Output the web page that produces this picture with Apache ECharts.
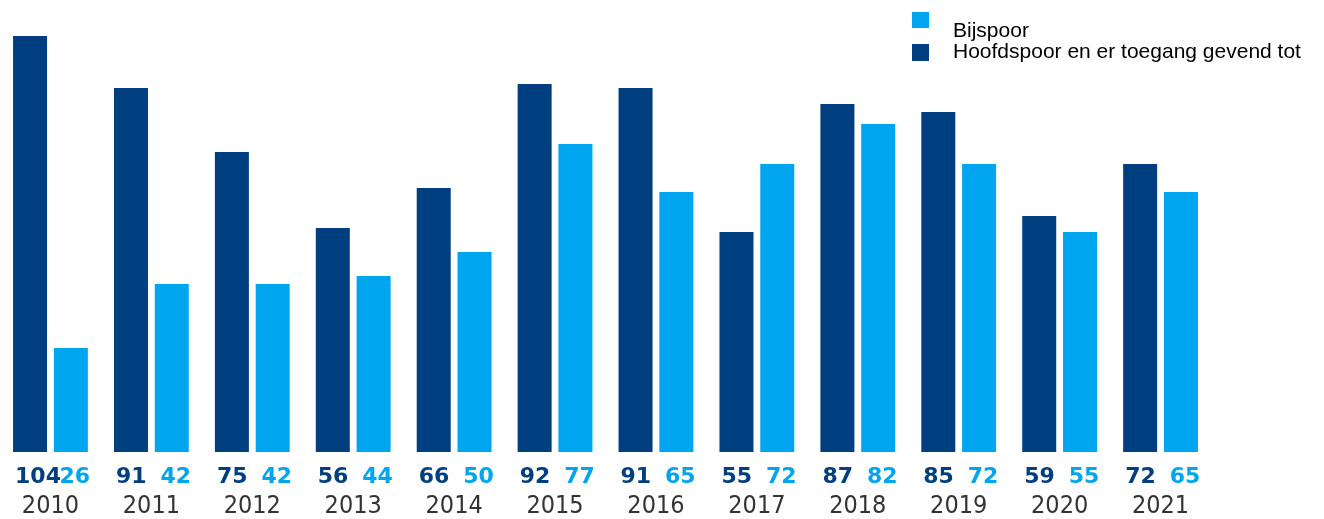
<!DOCTYPE html>
<html>
<head>
<meta charset="utf-8">
<script src="https://cdn.jsdelivr.net/npm/echarts@6/dist/echarts.min.js"></script>
<style>html,body{margin:0;padding:0;background:#fff}#c{width:1324px;height:519px}</style>
</head>
<body>
<div id="c"></div>
<script>
const years = ['2010','2011','2012','2013','2014','2015','2016','2017','2018','2019','2020','2021'];
const hoofdspoor = [104, 91, 75, 56, 66, 92, 91, 55, 87, 85, 59, 72];
const bijspoor = [26, 42, 42, 44, 50, 77, 65, 72, 82, 72, 55, 65];
const nameHoofd = 'Hoofdspoor en er toegang gevend tot';
const nameBij = 'Bijspoor';
const darkColor = '#003f7f';
const lightColor = '#00a5ef';

const chart = echarts.init(document.getElementById('c'));
const labelBase = {
  show: true, position: 'bottom', distance: 14,
  fontFamily: 'DejaVu Sans', fontWeight: 'bold', fontSize: 22
};
const legendBase = {
  orient: 'vertical', left: 912, padding: 0,
  itemWidth: 17, icon: 'rect'
};
chart.setOption({
  animation: false,
  legend: [
    Object.assign({}, legendBase, { top: 12, data: [nameBij], itemHeight: 38,
      icon: 'path://M0,0L17,0L17,16L0,16Z M0,38L0.01,38L0,37.99Z',
      textStyle: { fontFamily: 'Liberation Sans', fontSize: 21, color: '#000', padding: [0, 0, 0, 19] } }),
    Object.assign({}, legendBase, { top: 42, data: [nameHoofd], itemHeight: 17,
      textStyle: { fontFamily: 'Liberation Sans', fontSize: 21, color: '#000', padding: [0, 0, 0, 19] } })
  ],
  grid: { left: 0, right: 113, top: 12, bottom: 67, outerBoundsMode: 'none', containLabel: false },
  xAxis: {
    type: 'category', data: years,
    axisLine: { show: false }, axisTick: { show: false },
    axisLabel: { margin: 42, fontFamily: "'DejaVu Sans Condensed', 'DejaVu Sans'", fontSize: 25, color: '#333' }
  },
  yAxis: { type: 'value', min: 0, max: 110, show: false, splitLine: { show: false } },
  series: [
    { name: nameHoofd, type: 'bar', data: hoofdspoor, barWidth: 34, barGap: '20%',
      itemStyle: { color: darkColor },
      label: Object.assign({ color: darkColor, align: 'left', offset: [-15, 0] }, labelBase) },
    { name: nameBij, type: 'bar', data: bijspoor, barWidth: 34,
      itemStyle: { color: lightColor },
      label: Object.assign({ color: lightColor, offset: [4, 0] }, labelBase) }
  ]
});
</script>
</body>
</html>
